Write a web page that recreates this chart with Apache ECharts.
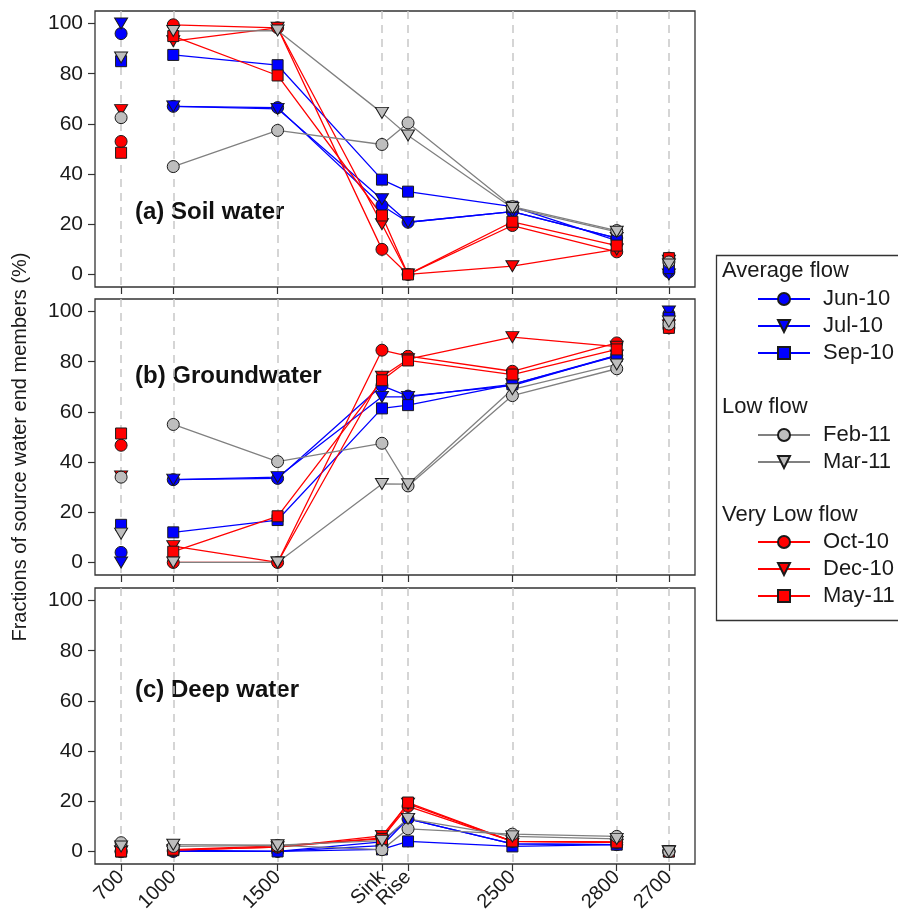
<!DOCTYPE html>
<html>
<head>
<meta charset="utf-8">
<script src="https://cdn.jsdelivr.net/npm/echarts@6/dist/echarts.min.js"></script>
<style>
  html, body { margin: 0; background: #fff; }
  #chart { width: 898px; height: 915px; }
</style>
</head>
<body>
<div id="chart"></div>
<script>
// sampling stations along the x axis (spacing as in the original figure)
const stations = ['700', '1000', '1500', 'Sink', 'Rise', '2500', '2800', '2700'];
const stationPos = [0, 1, 3, 5, 5.5, 7.5, 9.5, 10.5];
const yTicks = [0, 20, 40, 60, 80, 100];

const seriesNames = ['Jun-10', 'Jul-10', 'Sep-10', 'Feb-11', 'Mar-11', 'Oct-10', 'Dec-10', 'May-11'];

// rows follow seriesNames, columns follow stations
const soilWater = [
  [96, 67, 66.5, 27.5, 20.8, 25, 14.5, 1],      // Jun-10
  [100, 67, 66, 30, 20.8, 25, 14.5, 0],         // Jul-10
  [85, 87.5, 83.4, 37.8, 33, 27, 13.5, 2.5],    // Sep-10
  [62.5, 43, 57.4, 51.8, 60.4, 27, 17.5, 5],    // Feb-11
  [86.5, 97, 97.2, 64.4, 55.4, 26.5, 17, 4],    // Mar-11
  [53, 99.5, 98.3, 10, 0, 19.5, 9, 6.5],        // Oct-10
  [65.5, 93, 98.3, 20, 0, 3.3, 10, 5.5],        // Dec-10
  [48.5, 95, 79.3, 23.5, 0, 21, 11.5, 6.5]      // May-11
];
const groundWater = [
  [4, 33, 33.5, 70.5, 66.3, 70.5, 82.5, 99],
  [0, 33, 34, 66, 66, 71, 82.5, 100],
  [15, 12, 16.9, 61.4, 62.7, 71, 82.2, 97.5],
  [34, 55, 40.2, 47.5, 30.5, 66.5, 77.2, 95],
  [11.5, 0, 0, 31.3, 31.2, 69, 78.9, 96],
  [46.7, 0, 0, 84.6, 82.2, 76.2, 87.5, 93.5],
  [34.3, 6.5, 0, 74, 81, 89.8, 86, 94.5],
  [51.4, 4.3, 18.4, 72.6, 80.5, 74.9, 84.9, 93.5]
];
const deepWater = [
  [0, 0, 0, 2.3, 13, 3, 2.7, 0],
  [0, 0, 0, 3.8, 13, 3, 2.7, 0],
  [0, 0.5, 0, 0.8, 4, 2, 2.7, 0],
  [3.5, 2, 2.4, 0.7, 9, 6.9, 6, 0],
  [2, 2.7, 2.5, 4.3, 13, 6, 5, 0],
  [0, 0.5, 1.7, 5.4, 18, 4, 3.6, 0],
  [0, 0.5, 1.7, 6.2, 19, 4, 3.8, 0],
  [0, 0.7, 2.2, 5, 19.5, 4, 3.6, 0]
];

const panels = [soilWater, groundWater, deepWater];
const panelLabels = ['(a) Soil water', '(b) Groundwater', '(c) Deep water'];

const FONT = 'Liberation Sans, Arial, sans-serif';
const downTri = 'path://M0,0L20,0L10,17Z';
const symbols = ['circle', downTri, 'rect', 'circle', downTri, 'circle', downTri, 'rect'];
const symbolSizes = [12, [13, 11], 11, 12, [13, 11], 12, [13, 11], 11];
const fills = ['#0000ff', '#0000ff', '#0000ff', '#bebebe', '#bebebe', '#ff0000', '#ff0000', '#ff0000'];
const lineColors = ['#0000ff', '#0000ff', '#0000ff', '#808080', '#808080', '#ff0000', '#ff0000', '#ff0000'];
const drawOrder = [0, 1, 2, 5, 6, 7, 3, 4];

const gridTops = [11, 299, 588];

const grids = gridTops.map(t => ({
  left: 95, top: t, width: 600, height: 276,
  show: true, borderColor: '#333', borderWidth: 1.3, backgroundColor: 'transparent'
}));

const xAxes = gridTops.map((t, p) => ({
  gridIndex: p, type: 'value', min: -0.5, max: 11,
  axisLine: { show: false, onZero: false },
  axisTick: { show: true, customValues: stationPos, length: 7, lineStyle: { color: '#333', width: 1.2 } },
  axisLabel: {
    show: p === 2, customValues: stationPos, rotate: 45, margin: 10,
    fontSize: 20, color: '#1a1a1a', fontFamily: FONT,
    formatter: v => stations[stationPos.indexOf(v)]
  },
  splitLine: { show: true, lineStyle: { type: [8, 6], color: '#c8c8c8', width: 1.5 } }
}));

const yAxes = gridTops.map((t, p) => ({
  gridIndex: p, type: 'value', min: -5, max: 105,
  axisLine: { show: false, onZero: false },
  axisTick: { show: true, customValues: yTicks, length: 7, lineStyle: { color: '#333', width: 1.2 } },
  axisLabel: { customValues: yTicks, margin: 12, fontSize: 21, color: '#1a1a1a', fontFamily: FONT },
  splitLine: { show: false }
}));

const series = [];
panels.forEach((panel, p) => {
  drawOrder.forEach(s => {
    const vals = panel[s];
    const common = {
      name: seriesNames[s], xAxisIndex: p, yAxisIndex: p,
      symbol: symbols[s], symbolSize: symbolSizes[s],
      itemStyle: { color: fills[s], borderColor: '#1a1a1a', borderWidth: 1, opacity: 1 },
      emphasis: { disabled: true }, animation: false
    };
    // stations 1000 .. 2800 are joined by lines
    series.push(Object.assign({}, common, {
      type: 'line', showSymbol: true, showAllSymbol: true,
      lineStyle: { color: lineColors[s], width: 1.3 },
      data: vals.slice(1, 7).map((v, i) => [stationPos[i + 1], v])
    }));
    // 700 and 2700 stand alone
    series.push(Object.assign({}, common, {
      type: 'scatter',
      data: [[stationPos[0], vals[0]], [stationPos[7], vals[7]]]
    }));
  });
});

const legendBase = {
  orient: 'vertical', left: 757, padding: 0,
  itemWidth: 52, itemHeight: 15, itemGap: 5,
  textStyle: { fontSize: 22, color: '#1a1a1a', fontFamily: FONT, padding: [0, 0, 0, 8] },
  selectedMode: false
};
const legends = [
  Object.assign({}, legendBase, { top: 288, data: ['Jun-10', 'Jul-10', 'Sep-10'] }),
  Object.assign({}, legendBase, { top: 424, data: ['Feb-11', 'Mar-11'] }),
  Object.assign({}, legendBase, { top: 531, data: ['Oct-10', 'Dec-10', 'May-11'] })
];

const headText = (txt, y) => ({
  type: 'text', left: 722, top: y - 12,
  style: { text: txt, fontSize: 22, fill: '#1a1a1a', fontFamily: FONT }
});

const panelLabelY = [212, 376, 690];

const graphic = [
  { type: 'rect', left: 714, top: 253, shape: { width: 183, height: 365 },
    style: { fill: 'none', stroke: '#333', lineWidth: 1.3 } },
  headText('Average flow', 272),
  headText('Low flow', 408),
  headText('Very Low flow', 516),
  { type: 'text', x: 20, y: 447, rotation: Math.PI / 2,
    style: { text: 'Fractions of source water end members (%)', fontSize: 20, fill: '#1a1a1a',
             fontFamily: FONT, align: 'center', verticalAlign: 'middle' } }
].concat(panelLabels.map((txt, i) => ({
  type: 'text', x: 135, y: panelLabelY[i],
  style: { text: txt, fontSize: 24, fontWeight: 'bold', fill: '#111', fontFamily: FONT, verticalAlign: 'middle' }
})));

const chart = echarts.init(document.getElementById('chart'), null, { renderer: 'canvas' });
chart.setOption({
  backgroundColor: '#fff',
  animation: false,
  grid: grids,
  xAxis: xAxes,
  yAxis: yAxes,
  legend: legends,
  graphic: graphic,
  series: series
});
</script>
</body>
</html>
